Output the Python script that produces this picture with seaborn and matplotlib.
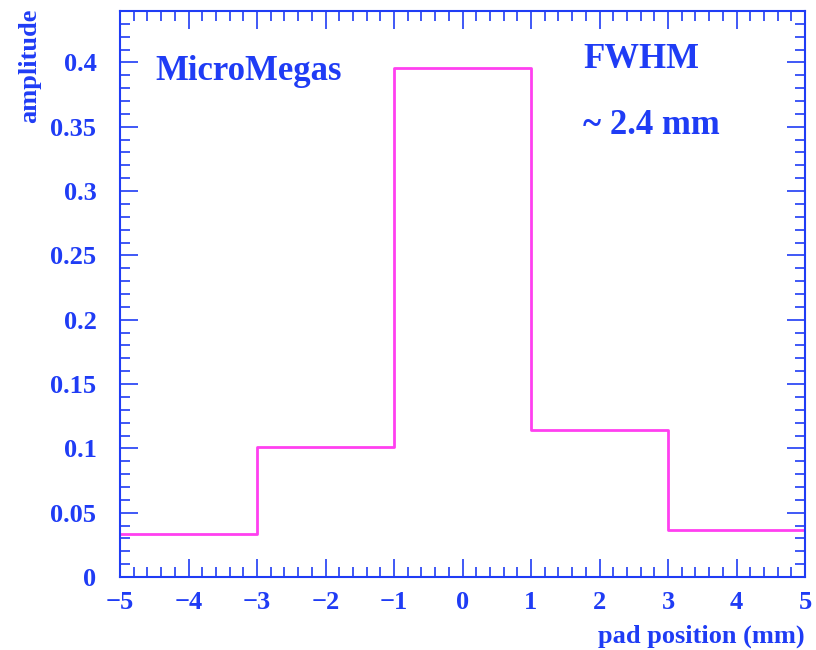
import numpy as np
import pandas as pd
import matplotlib
matplotlib.use("Agg")
import matplotlib.pyplot as plt
import seaborn as sns
from matplotlib.ticker import MultipleLocator

bin_edges = [-5, -3, -1, 1, 3, 5]
bin_centers = [-4, -2, 0, 2, 4]
amplitudes = [0.0335, 0.101, 0.396, 0.114, 0.0365]

sns.set_style("ticks")
plt.rcParams['font.family'] = ['Liberation Serif', 'DejaVu Serif']
plt.rcParams['font.weight'] = 'bold'

BLUE = '#1f3cf5'
MAG = '#ff40f0'

fig = plt.figure(figsize=(8.16, 6.5), dpi=100)
ax = fig.add_axes([120/816, 1-577/650, (805-120)/816, (577-11)/650])

df = pd.DataFrame({"x": bin_centers, "w": amplitudes})
sns.histplot(data=df, x="x", weights="w", bins=bin_edges, element="step",
             fill=False, color=MAG, linewidth=2, ax=ax)

ax.set_xlim(-5, 5)
ax.set_ylim(0, 0.44)
ax.xaxis.set_major_locator(MultipleLocator(1))
ax.xaxis.set_minor_locator(MultipleLocator(0.2))
ax.yaxis.set_major_locator(MultipleLocator(0.05))
ax.yaxis.set_minor_locator(MultipleLocator(0.01))
ax.set_yticks([0, 0.05, 0.1, 0.15, 0.2, 0.25, 0.3, 0.35, 0.4])
ax.set_yticklabels(['0', '0.05', '0.1', '0.15', '0.2', '0.25', '0.3', '0.35', '0.4'])
ax.set_xticks([-5, -4, -3, -2, -1, 0, 1, 2, 3, 4, 5])
ax.set_xticklabels(['\u22125', '\u22124', '\u22123', '\u22122', '\u22121', '0', '1', '2', '3', '4', '5'])

for s in ax.spines.values():
    s.set_color(BLUE)
    s.set_linewidth(1.5)
ax.tick_params(which='both', direction='in', top=True, right=True, colors=BLUE,
               labelsize=19, width=1.2)
ax.tick_params(axis='y', which='major', length=13, pad=17)
ax.tick_params(axis='x', which='major', length=13, pad=10)
ax.tick_params(which='minor', length=7)
for lab in ax.get_xticklabels() + ax.get_yticklabels():
    lab.set_fontweight('bold')
    lab.set_color(BLUE)

ax.set_xlabel('')
ax.set_ylabel('')
fig.text(805/816, 1-636/650, 'pad position (mm)', ha='right', va='center',
         fontsize=19, fontweight='bold', color=BLUE)
fig.text(30/816, 1-9/650, 'amplitude', ha='center', va='top', rotation=90,
         fontsize=19, fontweight='bold', color=BLUE)

ax.text(155/816, 1-72/650, 'MicroMegas', transform=fig.transFigure, ha='left',
        va='center', fontsize=25, fontweight='bold', color=BLUE)
ax.text(583/816, 1-60/650, 'FWHM', transform=fig.transFigure, ha='left',
        va='center', fontsize=25, fontweight='bold', color=BLUE)
ax.text(583/816, 1-125/650, '~ 2.4 mm', transform=fig.transFigure, ha='left',
        va='center', fontsize=25, fontweight='bold', color=BLUE)

fig.savefig('out.png', dpi=100)
